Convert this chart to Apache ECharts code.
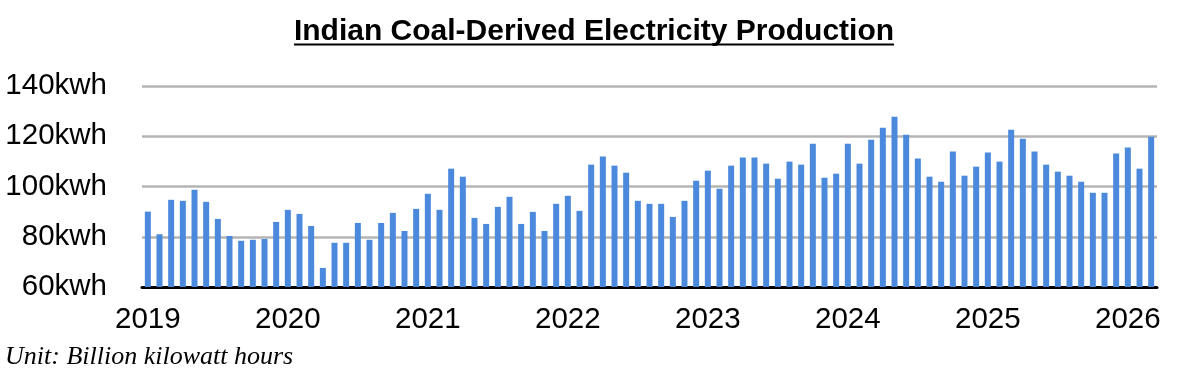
<!DOCTYPE html>
<html>
<head>
<meta charset="utf-8">
<script src="https://cdn.jsdelivr.net/npm/echarts@6/dist/echarts.min.js"></script>
<style>
html,body{margin:0;padding:0;background:#fff;}
#chart{width:1180px;height:383px;}
</style>
</head>
<body>
<div id="chart"></div>
<script>
// Data: monthly coal-derived electricity, Jan 2019 - Mar 2026 (billion kWh)
const years = ['2019','2020','2021','2022','2023','2024','2025','2026'];
const monthsInLastYear = 3;
const coalValues = [
  // 2019
  90, 81, 94.7, 94.3, 98.7, 93.9, 87.1, 80.3, 78.4, 78.8, 79.1, 85.9,
  // 2020
  90.7, 89.1, 84.3, 67.6, 77.6, 77.6, 85.5, 78.8, 85.5, 89.5, 82.3, 91.1,
  // 2021
  97.1, 90.7, 107.1, 103.9, 87.5, 85.1, 91.9, 95.9, 85.1, 89.9, 82.3, 93.1,
  // 2022
  96.3, 90.3, 108.7, 111.9, 108.3, 105.5, 94.3, 93.1, 93.1, 87.9, 94.3, 102.3,
  // 2023
  106.3, 99.1, 108.3, 111.5, 111.5, 109.1, 103.1, 109.9, 108.7, 117.0, 103.5, 105.1,
  // 2024
  117.0, 109.1, 118.6, 123.4, 127.8, 120.6, 111.1, 103.9, 101.9, 113.9, 104.3, 107.9,
  // 2025
  113.5, 109.9, 122.6, 119.0, 113.9, 108.7, 105.9, 104.3, 101.9, 97.5, 97.5, 113.1,
  // 2026
  115.5, 107.1, 119.8
];
const yTicks = [60, 80, 100, 120, 140];
const titleText = 'Indian Coal-Derived Electricity Production';
const unitText = 'Unit: Billion kilowatt hours';

// categories built from years
const categories = [];
years.forEach(function (y, i) {
  const n = (i === years.length - 1) ? monthsInLastYear : 12;
  for (let m = 1; m <= n; m++) categories.push(y + '-' + (m < 10 ? '0' + m : m));
});

const titleFont = 'bold 30px "Liberation Sans", Arial, sans-serif';
const cv = document.createElement('canvas').getContext('2d');
cv.font = titleFont;
const titleW = cv.measureText(titleText).width;
const titleCx = 594;

const chart = echarts.init(document.getElementById('chart'), null, {renderer: 'canvas'});
chart.setOption({
  animation: false,
  backgroundColor: '#fff',
  grid: {left: 142, right: 23, top: 86, bottom: 96, containLabel: false, outerBoundsMode: 'none'},
  xAxis: {
    type: 'category',
    data: categories,
    boundaryGap: true,
    axisLine: {show: true, lineStyle: {color: '#000', width: 3}},
    axisTick: {show: false},
    splitLine: {show: false},
    axisLabel: {
      interval: function (i) { return i % 12 === 0; },
      formatter: function (v) { return v.slice(0, 4); },
      fontSize: 29.5,
      fontFamily: '"Liberation Sans", Arial, sans-serif',
      color: '#000',
      margin: 18
    }
  },
  yAxis: {
    type: 'value',
    min: yTicks[0],
    max: yTicks[yTicks.length - 1],
    interval: 20,
    axisLine: {show: false},
    axisTick: {show: false},
    splitLine: {show: true, lineStyle: {color: '#b4b4b4', width: 2.5}},
    axisLabel: {
      formatter: '{value}kwh',
      fontSize: 29.5,
      fontFamily: '"Liberation Sans", Arial, sans-serif',
      color: '#000',
      margin: 35,
      padding: [4, 0, 0, 0]
    }
  },
  series: [{
    type: 'bar',
    data: coalValues,
    barWidth: 6,
    itemStyle: {color: '#4a89dc'}
  }],
  graphic: [
    {
      type: 'text',
      x: titleCx, y: 32,
      style: {
        text: titleText,
        font: titleFont,
        fill: '#000',
        align: 'center',
        verticalAlign: 'middle'
      }
    },
    {
      type: 'rect',
      shape: {x: titleCx - titleW / 2, y: 43.5, width: titleW, height: 2},
      style: {fill: '#000'}
    },
    {
      type: 'text',
      x: 5, y: 357,
      style: {
        text: unitText,
        font: 'italic 26px "Liberation Serif", "DejaVu Serif", serif',
        fill: '#000',
        align: 'left',
        verticalAlign: 'middle'
      }
    }
  ]
});
</script>
</body>
</html>
